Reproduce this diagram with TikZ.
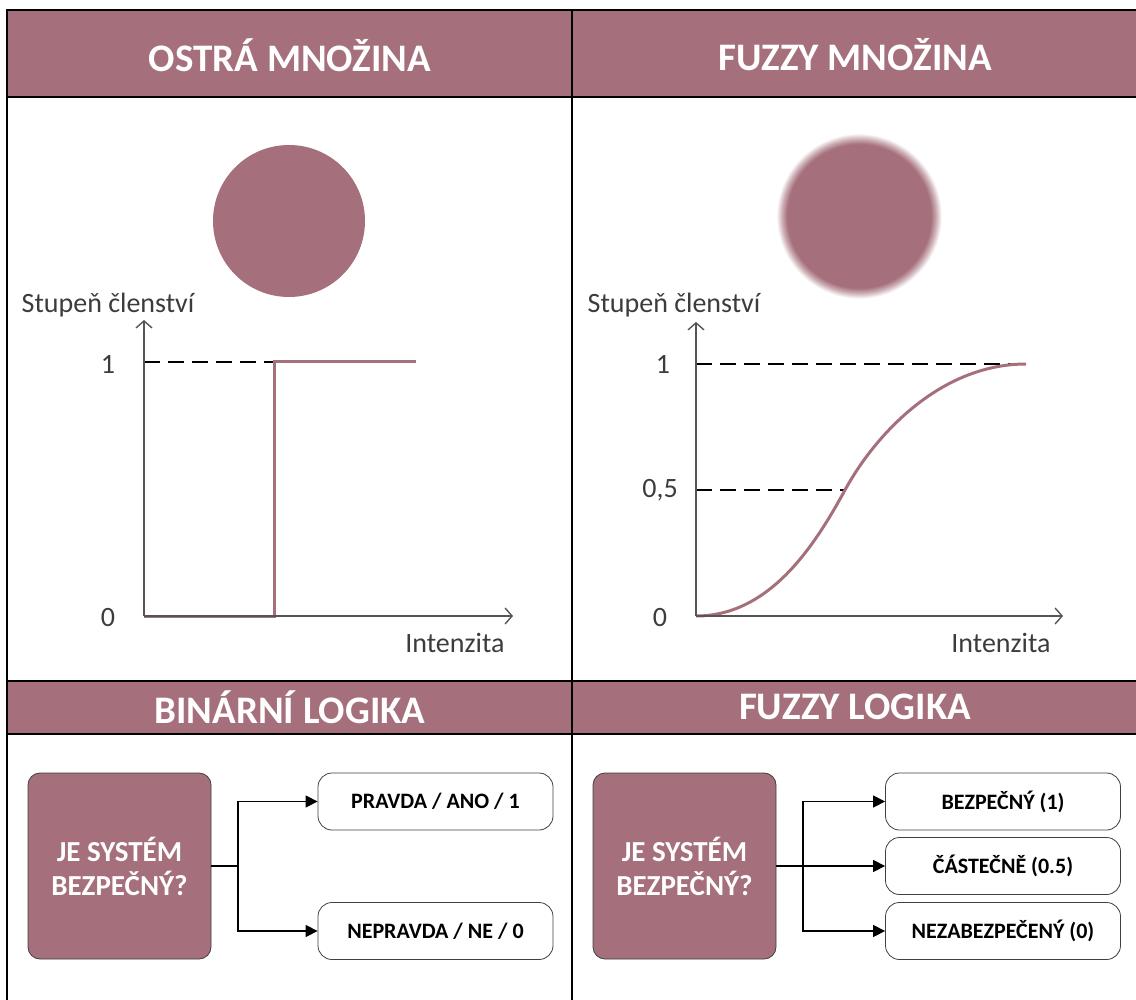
\documentclass[tikz,border=0pt]{standalone}
\usepackage{fontspec}
\setmainfont{Carlito}
\usetikzlibrary{arrows.meta}
\definecolor{rose}{RGB}{165,111,123}
\definecolor{axisgray}{RGB}{85,85,85}
\definecolor{textgray}{RGB}{60,60,60}
\pgfdeclareradialshading{fuzzyball}{\pgfpointorigin}{color(0bp)=(rose); color(21.4bp)=(rose); color(23bp)=(rose!55!white); color(24.6bp)=(white); color(50bp)=(white)}

\begin{document}
\begin{tikzpicture}[x=0.5pt,y=-0.5pt,>={Triangle[length=6pt,width=6pt]},
  head/.style={font=\fontsize{19.5}{22}\selectfont\bfseries,text=white},
  lbl/.style={font=\fontsize{14}{16}\selectfont,text=textgray},
  axis/.style={axisgray,line width=0.7pt,-{Straight Barb[length=3.5pt,width=8pt]}},
  guide/.style={dash pattern=on 8pt off 4pt,line width=1pt},
  member/.style={rose,line width=1.5pt},
  qbox/.style={draw=black!75,fill=rose,rounded corners=6pt,minimum width=91.5pt,minimum height=93pt,align=center,text=white,font=\fontsize{14.5}{17}\selectfont\bfseries},
  abox/.style={draw=black!75,rounded corners=7pt,minimum width=117.5pt,minimum height=28.5pt,font=\fontsize{11}{13}\selectfont\bfseries},
  flow/.style={line width=0.7pt}]
\useasboundingbox (0,0) rectangle (1136,1000);

\fill[rose] (7,10) rectangle (1136,97);
\fill[rose] (7,681) rectangle (1136,734);
\draw[line width=1pt] (7,1000) -- (7,10) -- (1136,10);
\draw[line width=1pt] (7,97) -- (1136,97) (7,681) -- (1136,681) (7,734) -- (1136,734);
\draw[line width=0.7pt] (572,10) -- (572,1000);

\node[head] (ostra) at (290,55) {OSTRÁ MNOŽINA};
\node[head] (fuzzy) at (855,55) {FUZZY MNOŽINA};
\node[head] (binar) at (290,707) {BINÁRNÍ LOGIKA};
\node[head] (flog) at (855,707) {FUZZY LOGIKA};

\fill[rose] (289,221) circle (76);
\shade[shading=fuzzyball] (859,216) circle (84);

\coordinate (o1) at (144,616);
\coordinate (y1) at (144,320);
\coordinate (x1) at (513,616);
\coordinate (s1) at (274,616);
\coordinate (t1) at (274,362);
\coordinate (e1) at (416,362);
\node[lbl] (st1) at (108,305) {Stupeň členství};
\node[lbl] (in1) at (455,643) {Intenzita};
\node[lbl] (one1) at (108,364) {1};
\node[lbl] (zero1) at (108,618) {0};
\draw[guide] (144,362) -- (t1);
\draw[member] (o1) -- (s1) -- (t1) -- (e1);
\draw[axis] (o1) -- (y1);
\draw[axis] (o1) -- (x1);

\coordinate (o2) at (696,616);
\coordinate (y2) at (696,322);
\coordinate (x2) at (1063,616);
\coordinate (m2) at (845,490);
\coordinate (e2) at (1026,364);
\node[lbl] (st2) at (674,305) {Stupeň členství};
\node[lbl] (in2) at (1001,643) {Intenzita};
\node[lbl] (one2) at (663,364) {1};
\node[lbl] (half2) at (660,490) {0,5};
\node[lbl] (zero2) at (660,618) {0};
\draw[guide] (696,364) -- (e2);
\draw[guide] (696,490) -- (m2);
\draw[member] (o2) .. controls (770,616) and (815,545) .. (m2) .. controls (875,435) and (940,364) .. (e2);
\draw[axis] (o2) -- (y2);
\draw[axis] (o2) -- (x2);

\node[qbox] (q1) at (119.5,866) {JE SYSTÉM\\BEZPEČNÝ?};
\node[abox] (a1) at (435.5,801.5) {PRAVDA / ANO / 1};
\node[abox] (a0) at (435.5,931) {NEPRAVDA / NE / 0};
\coordinate (j1) at (238,866);
\draw[flow] (q1.east) -- (j1);
\draw[flow,->] (j1) |- (a1.west);
\draw[flow,->] (j1) |- (a0.west);

\node[qbox] (q2) at (684.5,866) {JE SYSTÉM\\BEZPEČNÝ?};
\node[abox] (b1) at (1003,801.5) {BEZPEČNÝ (1)};
\node[abox] (bh) at (1003,866) {ČÁSTEČNĚ (0.5)};
\node[abox] (b0) at (1003,931) {NEZABEZPEČENÝ (0)};
\coordinate (j2) at (803,866);
\draw[flow,->] (q2.east) -- (bh.west);
\draw[flow,->] (j2) |- (b1.west);
\draw[flow,->] (j2) |- (b0.west);
\end{tikzpicture}
\end{document}
